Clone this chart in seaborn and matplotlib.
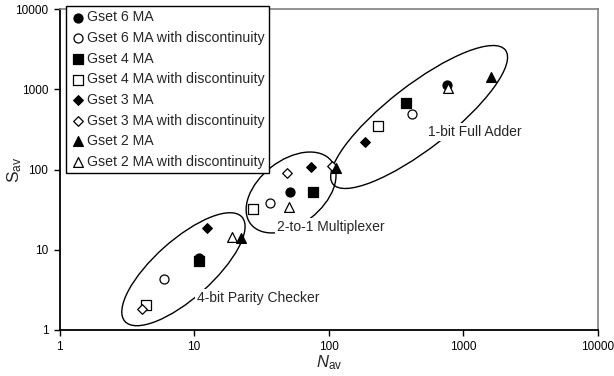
import numpy as np
import pandas as pd
import matplotlib
matplotlib.use("Agg")
import matplotlib.pyplot as plt
import seaborn as sns
from matplotlib.patches import Ellipse
from matplotlib.transforms import ScaledTranslation
from matplotlib.ticker import NullLocator

# ---------------- data ----------------
series = ["Gset 6 MA", "Gset 6 MA with discontinuity",
          "Gset 4 MA", "Gset 4 MA with discontinuity",
          "Gset 3 MA", "Gset 3 MA with discontinuity",
          "Gset 2 MA", "Gset 2 MA with discontinuity"]

# one value per circuit: parity checker, multiplexer, full adder
n_g6 = [10.9, 51.6, 760]
s_g6 = [7.8, 52, 1130]
n_g6d = [5.98, 36.3, 414]
s_g6d = [4.28, 37.7, 487]
n_g4 = [10.9, 76.9, 373]
s_g4 = [7.2, 52.5, 668]
n_g4d = [4.39, 27.6, 234]
s_g4d = [2.05, 31.9, 350]
n_g3 = [12.5, 73.5, 186]
s_g3 = [18.5, 107, 222]
n_g3d = [4.08, 49.2, 105]
s_g3d = [1.83, 89.7, 111]
n_g2 = [22.3, 113, 1607]
s_g2 = [14.1, 103.5, 1433]
n_g2d = [19.0, 51, 774]
s_g2d = [14.5, 34.4, 1028]

circuits = ["4-bit Parity Checker", "2-to-1 Multiplexer", "1-bit Full Adder"]
# group outline centres (N, S) and label anchors (N, S)
group_center_n = [8.33, 52.5, 469]
group_center_s = [5.72, 51.7, 451]
label_n = [10.5, 41.3, 547]
label_s = [2.5, 19.2, 293]

tick_vals = [1, 10, 100, 1000, 10000]
tick_labels = ["1", "10", "100", "1000", "10000"]

N_vals = [n_g6, n_g6d, n_g4, n_g4d, n_g3, n_g3d, n_g2, n_g2d]
S_vals = [s_g6, s_g6d, s_g4, s_g4d, s_g3, s_g3d, s_g2, s_g2d]

rows = []
for name, ns, ss in zip(series, N_vals, S_vals):
    for c, n, s in zip(circuits, ns, ss):
        rows.append({"series": name, "circuit": c, "N": n, "S": s})
df = pd.DataFrame(rows)

# ---------------- style ----------------
sns.set_style("ticks")
plt.rcParams["font.family"] = ["Liberation Sans", "DejaVu Sans"]
plt.rcParams["mathtext.fontset"] = "custom"
plt.rcParams["mathtext.rm"] = "Liberation Sans"
plt.rcParams["mathtext.it"] = "Liberation Sans:italic"

markers = ["o", "o", "s", "s", "D", "D", "^", "^"]
faces = ["black", "white"] * 4
sizes = [42, 42, 42, 42, 24, 24, 50, 50]

W, H = 614, 376
fig = plt.figure(figsize=(W / 100, H / 100), dpi=100)
fig.patch.set_facecolor("white")
ax = fig.add_axes([59.5 / W, 1 - 330 / H, (598 - 59.5) / W, (330 - 9) / H])
ax.set_xscale("log")
ax.set_yscale("log")
ax.set_xlim(1, 10000)
ax.set_ylim(1, 10000)

for name, m, fc, sz in zip(series, markers, faces, sizes):
    sub = df[df["series"] == name]
    sns.scatterplot(data=sub, x="N", y="S", ax=ax, marker=m, s=sz,
                    color=fc, edgecolor="black", linewidth=0.9,
                    label=name, zorder=4)

# group outlines
ell_w = [1.568, 1.024, 2.184]
ell_h = [0.582, 0.644, 0.636]
ell_ang = [41.7, 38.0, 37.8]
for cn, cs, w, h, a in zip(group_center_n, group_center_s, ell_w, ell_h, ell_ang):
    tr = fig.dpi_scale_trans + ScaledTranslation(cn, cs, ax.transData)
    ax.add_patch(Ellipse((0, 0), width=w, height=h, angle=a, transform=tr,
                         fill=False, edgecolor="black", lw=1.0, zorder=1))

for txt, ln, ls in zip(circuits, label_n, label_s):
    ax.text(ln, ls, txt, fontsize=10, ha="left", va="center", zorder=2,
            bbox=dict(facecolor="white", edgecolor="none", pad=1.5))

ax.set_xticks(tick_vals)
ax.set_xticklabels(tick_labels)
ax.set_yticks(tick_vals)
ax.set_yticklabels(tick_labels)
ax.xaxis.set_minor_locator(NullLocator())
ax.yaxis.set_minor_locator(NullLocator())
ax.tick_params(axis="both", which="major", labelsize=8.5, length=4, width=1,
               direction="out", colors="black", pad=4)

for sp in ["left", "bottom"]:
    ax.spines[sp].set_color("black")
    ax.spines[sp].set_linewidth(1.3)
for sp in ["top", "right"]:
    ax.spines[sp].set_visible(True)
    ax.spines[sp].set_color("#808080")
    ax.spines[sp].set_linewidth(1.2)

ax.set_xlabel("")
ax.set_ylabel("")
fig.text(329 / W, 1 - 363 / H, r"$\mathit{N}_{\mathrm{av}}$", fontsize=12,
         ha="center", va="center")
fig.text(15 / W, 1 - 170 / H, r"$\mathrm{S}_{\mathrm{av}}$", fontsize=12.5,
         ha="center", va="center", rotation=90)

leg = ax.legend(loc="upper left", bbox_to_anchor=(66 / W, 1 - 6 / H),
                bbox_transform=fig.transFigure, borderaxespad=0,
                fontsize=10.2, frameon=True, fancybox=False, framealpha=1,
                edgecolor="black", borderpad=0.3, handlelength=1.1,
                handletextpad=0.1, labelspacing=0.47, markerscale=1.0)
leg.get_frame().set_linewidth(1.0)
leg.set_zorder(5)

fig.savefig("out.png", dpi=100)
